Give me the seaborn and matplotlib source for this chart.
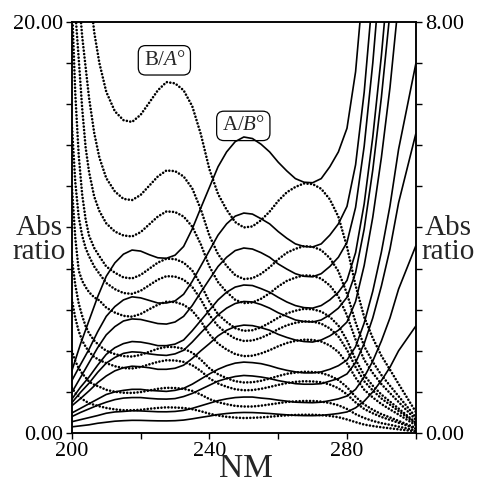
import numpy as np
import seaborn as sns
import matplotlib
matplotlib.use("Agg")
import matplotlib.pyplot as plt

# wavelength grids (nm)
nm_solid = [200, 202.5, 205, 207.5, 210, 212.5, 215, 217.5, 220, 222.5, 225, 227.5,
            230, 232.5, 235, 237.5, 240, 242.5, 245, 247.5, 250, 252.5, 255, 257.5,
            260, 262.5, 265, 267.5, 270, 272.5, 275, 277.5, 280, 282.5, 285, 287.5,
            290, 292.5, 295, 297.5, 300]
nm_dotted = [200, 201, 202, 203, 204, 205, 206.5, 208, 210, 212.5, 215, 217.5,
             220, 222.5, 225, 227.5, 230, 232.5, 235, 237.5, 240, 242.5, 245, 247.5,
             250, 252.5, 255, 257.5, 260, 262.5, 265, 267.5, 270, 272.5, 275, 277.5,
             280, 282.5, 285, 287.5, 290, 292.5, 295, 297.5, 300]

# A/B° ratios (solid lines, right axis 0-8)
ab_1 = [1.21, 1.73, 2.19, 2.65, 3.05, 3.31, 3.48, 3.56, 3.54, 3.47, 3.41, 3.40,
        3.46, 3.63, 3.97, 4.38, 4.78, 5.18, 5.47, 5.67, 5.76, 5.73, 5.62, 5.47,
        5.27, 5.10, 4.95, 4.88, 4.87, 4.95, 5.18, 5.47, 5.93, 7.03, 8.93, 11.5,
        14.7, 18.4, 23.0, 26.5, 30.0]
ab_2 = [1.02, 1.33, 1.63, 1.97, 2.27, 2.46, 2.59, 2.65, 2.63, 2.58, 2.53, 2.53,
        2.57, 2.70, 2.95, 3.25, 3.55, 3.85, 4.07, 4.22, 4.28, 4.26, 4.17, 4.07,
        3.92, 3.79, 3.68, 3.63, 3.62, 3.68, 3.85, 4.07, 4.41, 5.22, 6.63, 8.56,
        10.9, 13.7, 17.1, 19.7, 22.3]
ab_3 = [0.79, 1.08, 1.37, 1.66, 1.91, 2.07, 2.18, 2.22, 2.21, 2.17, 2.13, 2.12,
        2.16, 2.27, 2.48, 2.74, 2.99, 3.24, 3.42, 3.55, 3.60, 3.58, 3.51, 3.42,
        3.29, 3.19, 3.10, 3.05, 3.04, 3.10, 3.24, 3.42, 3.71, 4.39, 5.58, 7.20,
        9.18, 11.5, 14.4, 16.6, 18.7]
ab_4 = [0.66, 0.89, 1.09, 1.32, 1.53, 1.66, 1.74, 1.78, 1.77, 1.74, 1.70, 1.70,
        1.73, 1.81, 1.99, 2.19, 2.39, 2.59, 2.74, 2.84, 2.88, 2.87, 2.81, 2.74,
        2.64, 2.55, 2.48, 2.44, 2.43, 2.48, 2.59, 2.74, 2.97, 3.51, 4.46, 5.76,
        7.34, 9.20, 11.5, 13.2, 15.0]
ab_5 = [0.59, 0.79, 0.97, 1.18, 1.36, 1.47, 1.55, 1.58, 1.57, 1.54, 1.52, 1.51,
        1.54, 1.61, 1.77, 1.95, 2.12, 2.30, 2.43, 2.52, 2.56, 2.55, 2.50, 2.43,
        2.34, 2.27, 2.20, 2.17, 2.16, 2.20, 2.30, 2.43, 2.64, 3.12, 3.97, 5.12,
        6.53, 8.19, 10.2, 11.8, 13.3]
ab_6 = [0.53, 0.67, 0.82, 0.98, 1.11, 1.21, 1.27, 1.30, 1.29, 1.27, 1.24, 1.24,
        1.26, 1.32, 1.45, 1.60, 1.74, 1.89, 2.00, 2.07, 2.10, 2.09, 2.05, 2.00,
        1.92, 1.86, 1.81, 1.78, 1.77, 1.81, 1.89, 2.00, 2.16, 2.56, 3.26, 4.20,
        5.36, 6.72, 8.40, 9.66, 10.9]
ab_7 = [0.39, 0.48, 0.57, 0.66, 0.75, 0.80, 0.83, 0.85, 0.85, 0.83, 0.82, 0.81,
        0.83, 0.87, 0.95, 1.05, 1.15, 1.24, 1.31, 1.36, 1.38, 1.37, 1.35, 1.31,
        1.26, 1.22, 1.19, 1.17, 1.17, 1.19, 1.24, 1.31, 1.42, 1.68, 2.14, 2.76,
        3.52, 4.42, 5.52, 6.35, 7.18]
ab_8 = [0.32, 0.40, 0.47, 0.54, 0.60, 0.65, 0.68, 0.69, 0.69, 0.675, 0.663, 0.66,
        0.67, 0.71, 0.77, 0.85, 0.93, 1.01, 1.06, 1.10, 1.12, 1.11, 1.09, 1.06,
        1.02, 0.99, 0.96, 0.95, 0.95, 0.96, 1.01, 1.06, 1.15, 1.37, 1.74, 2.24,
        2.86, 3.58, 4.48, 5.15, 5.82]
ab_9 = [0.22, 0.26, 0.30, 0.34, 0.385, 0.41, 0.42, 0.433, 0.43, 0.422, 0.414, 0.413,
        0.42, 0.44, 0.48, 0.53, 0.58, 0.63, 0.665, 0.69, 0.70, 0.70, 0.68, 0.665,
        0.64, 0.62, 0.60, 0.594, 0.59, 0.60, 0.63, 0.665, 0.72, 0.85, 1.09, 1.40,
        1.79, 2.24, 2.80, 3.22, 3.64]
ab_10 = [0.12, 0.14, 0.16, 0.19, 0.21, 0.23, 0.24, 0.247, 0.246, 0.241, 0.237, 0.236,
         0.24, 0.252, 0.276, 0.304, 0.33, 0.36, 0.38, 0.394, 0.40, 0.398, 0.39, 0.38,
         0.366, 0.354, 0.344, 0.339, 0.338, 0.344, 0.36, 0.38, 0.41, 0.49, 0.62, 0.80,
         1.02, 1.28, 1.60, 1.84, 2.08]

# B/A° ratios (dotted lines, left axis 0-20)
ba_1 = [45, 37, 31, 27, 24, 21.8, 19.5, 18.0, 16.6, 15.65, 15.22, 15.13,
        15.48, 16.07, 16.67, 17.07, 17.01, 16.67, 15.90, 14.54, 12.83, 11.63, 10.86, 10.26,
        10.0, 10.05, 10.35, 10.77, 11.29, 11.71, 11.97, 12.14, 12.11, 11.88, 11.37, 10.52,
        9.06, 7.18, 5.64, 4.62, 3.76, 3.08, 2.39, 1.71, 1.03]
ba_2 = [30, 25, 21.3, 19.3, 17.8, 16.3, 14.6, 13.4, 12.4, 11.75, 11.39, 11.33,
        11.58, 12.03, 12.48, 12.77, 12.74, 12.48, 11.90, 10.88, 9.60, 8.70, 8.13, 7.68,
        7.49, 7.53, 7.74, 8.06, 8.45, 8.77, 8.96, 9.09, 9.06, 8.90, 8.51, 7.87,
        6.78, 5.38, 4.22, 3.46, 2.82, 2.30, 1.79, 1.28, 0.77]
ba_3 = [24, 20.5, 18.2, 15.8, 13.9, 12.7, 11.5, 10.8, 10.2, 9.8, 9.61, 9.56,
        9.77, 10.15, 10.53, 10.78, 10.75, 10.53, 10.04, 9.18, 8.10, 7.34, 6.86, 6.48,
        6.32, 6.35, 6.53, 6.80, 7.13, 7.40, 7.56, 7.67, 7.65, 7.51, 7.18, 6.64,
        5.72, 4.54, 3.56, 2.92, 2.38, 1.94, 1.51, 1.08, 0.65]
ba_4 = [21, 16.5, 13.5, 11.6, 10.4, 9.6, 9.0, 8.6, 8.1, 7.8, 7.57, 7.52,
        7.69, 7.99, 8.29, 8.48, 8.46, 8.29, 7.91, 7.23, 6.38, 5.78, 5.40, 5.10,
        4.97, 5.00, 5.14, 5.36, 5.61, 5.82, 5.95, 6.04, 6.02, 5.91, 5.65, 5.23,
        4.51, 3.57, 2.81, 2.30, 1.87, 1.53, 1.19, 0.85, 0.51]
ba_5 = [15, 12.2, 10.5, 9.6, 9.0, 8.6, 8.1, 7.75, 7.3, 7.0, 6.81, 6.77,
        6.92, 7.19, 7.46, 7.63, 7.61, 7.46, 7.11, 6.50, 5.74, 5.20, 4.86, 4.59,
        4.48, 4.50, 4.63, 4.82, 5.05, 5.24, 5.36, 5.43, 5.42, 5.32, 5.09, 4.70,
        4.05, 3.21, 2.52, 2.07, 1.68, 1.38, 1.07, 0.77, 0.46]
ba_6 = [12, 9.5, 7.9, 7.4, 7.1, 6.85, 6.6, 6.45, 6.1, 5.86, 5.70, 5.66,
        5.79, 6.02, 6.24, 6.39, 6.37, 6.24, 5.95, 5.44, 4.80, 4.35, 4.06, 3.84,
        3.74, 3.76, 3.87, 4.03, 4.22, 4.38, 4.48, 4.54, 4.53, 4.45, 4.26, 3.94,
        3.39, 2.69, 2.11, 1.73, 1.41, 1.15, 0.90, 0.64, 0.38]
ba_7 = [8.5, 7.2, 6.3, 5.7, 5.2, 4.85, 4.5, 4.25, 4.0, 3.84, 3.74, 3.72,
        3.80, 3.95, 4.10, 4.19, 4.18, 4.10, 3.91, 3.57, 3.15, 2.86, 2.67, 2.52,
        2.46, 2.47, 2.54, 2.65, 2.77, 2.88, 2.94, 2.98, 2.97, 2.92, 2.79, 2.58,
        2.23, 1.76, 1.39, 1.13, 0.92, 0.76, 0.59, 0.42, 0.25]
ba_8 = [6.5, 5.6, 4.95, 4.5, 4.2, 3.95, 3.7, 3.55, 3.4, 3.25, 3.16, 3.14,
        3.21, 3.34, 3.46, 3.54, 3.53, 3.46, 3.30, 3.02, 2.66, 2.41, 2.25, 2.13,
        2.08, 2.09, 2.15, 2.24, 2.34, 2.43, 2.49, 2.52, 2.51, 2.47, 2.36, 2.18,
        1.88, 1.49, 1.17, 0.96, 0.78, 0.64, 0.50, 0.36, 0.21]
ba_9 = [4.0, 3.5, 3.15, 2.9, 2.7, 2.5, 2.35, 2.25, 2.1, 2.01, 1.96, 1.95,
        1.99, 2.07, 2.15, 2.20, 2.19, 2.15, 2.05, 1.87, 1.65, 1.50, 1.40, 1.32,
        1.29, 1.29, 1.33, 1.39, 1.45, 1.51, 1.54, 1.56, 1.56, 1.53, 1.46, 1.35,
        1.17, 0.92, 0.73, 0.59, 0.48, 0.40, 0.31, 0.22, 0.13]
ba_10 = [2.2, 1.95, 1.78, 1.65, 1.55, 1.45, 1.37, 1.3, 1.22, 1.15, 1.11, 1.11,
         1.13, 1.18, 1.22, 1.25, 1.24, 1.22, 1.16, 1.06, 0.94, 0.85, 0.79, 0.75,
         0.73, 0.74, 0.76, 0.79, 0.83, 0.86, 0.88, 0.89, 0.89, 0.87, 0.83, 0.77,
         0.66, 0.53, 0.41, 0.34, 0.28, 0.23, 0.18, 0.13, 0.08]

solid_curves = [ab_1, ab_2, ab_3, ab_4, ab_5, ab_6, ab_7, ab_8, ab_9, ab_10]
dotted_curves = [ba_1, ba_2, ba_3, ba_4, ba_5, ba_6, ba_7, ba_8, ba_9, ba_10]

sns.set_theme(style="ticks")
plt.rcParams["font.family"] = ["Liberation Serif", "DejaVu Serif"]
plt.rcParams["mathtext.fontset"] = "custom"
plt.rcParams["mathtext.rm"] = "Liberation Serif"
plt.rcParams["mathtext.it"] = "Liberation Serif:italic"

fig = plt.figure(figsize=(4.79, 4.86), dpi=100)
ax = fig.add_axes([0.150, 0.109, 0.718, 0.846])
ax2 = ax.twinx()

for ys in dotted_curves:
    sns.lineplot(x=nm_dotted, y=ys, ax=ax, color="black", lw=1.9,
                 linestyle=(0, (0.01, 1.3)), dash_capstyle="round", estimator=None)
for ys in solid_curves:
    sns.lineplot(x=nm_solid, y=ys, ax=ax2, color="black", lw=1.2, estimator=None)

ax.set_xlim(200, 300)
ax.set_ylim(0, 20)
ax2.set_ylim(0, 8)

ax.set_xticks([200, 220, 240, 260, 280, 300])
ax.set_xticklabels(["200", "", "240", "", "280", ""])
ax.set_yticks(np.linspace(0, 20, 11))
ax.set_yticklabels(["0.00"] + [""] * 9 + ["20.00"])
ax2.set_yticks(np.linspace(0, 8, 11))
ax2.set_yticklabels(["0.00"] + [""] * 9 + ["8.00"])

for a in (ax, ax2):
    a.tick_params(direction="out", length=4.5, width=1.0, labelsize=16, pad=2, colors="black")
    for s in a.spines.values():
        s.set_linewidth(1.1)
        s.set_color("black")

ax.set_xlabel("NM", fontsize=24)
ax.xaxis.set_label_coords(0.506, -0.088)
ax.xaxis.label.set_va("center")
ax.set_ylabel("Abs\nratio", fontsize=21, rotation=0, ha="center", va="center", linespacing=0.9)
ax.yaxis.set_label_coords(-0.095, 0.47)
ax2.set_ylabel("Abs\nratio", fontsize=21, rotation=0, ha="center", va="center", linespacing=0.9)
ax2.yaxis.set_label_coords(1.095, 0.47)

box = dict(boxstyle="round,pad=0.25,rounding_size=0.35", fc="white", ec="black", lw=0.9)
ax.text(226.9, 18.13, "B/$\\mathit{A}$°", fontsize=15, ha="center", va="center", bbox=box, zorder=5)
ax.text(249.85, 14.94, "A/$\\mathit{B}$°", fontsize=15, ha="center", va="center", bbox=box, zorder=5)

fig.savefig("out.png", dpi=100, facecolor="white")
